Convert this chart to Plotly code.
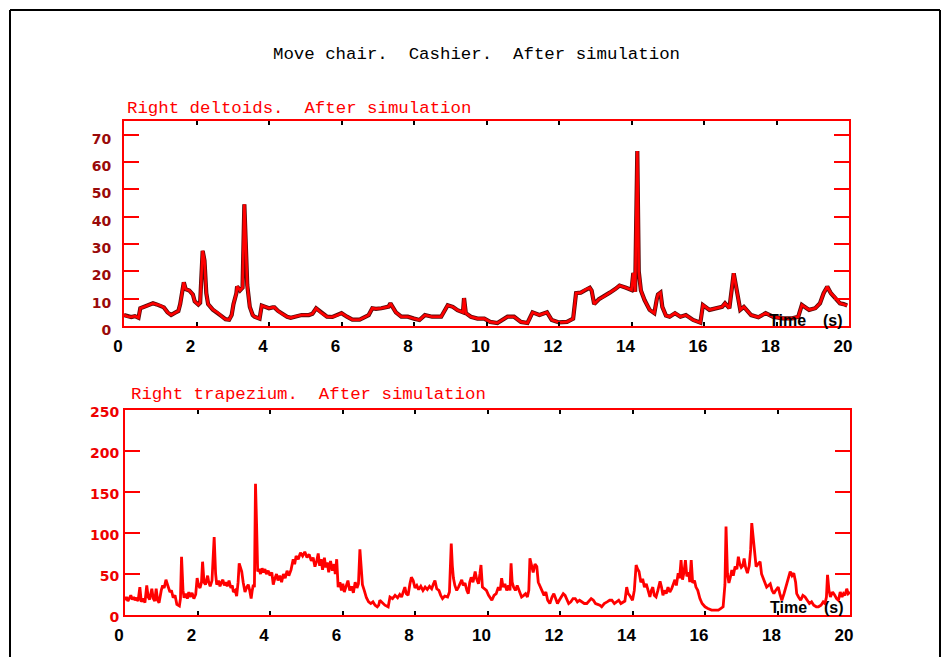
import plotly.graph_objects as go

W, H = 943, 657

# ---------------- data ----------------
deltoid_t = [0.0, 0.1, 0.2, 0.3, 0.4, 0.45, 0.6, 0.7, 0.8, 0.9, 1.0, 1.1, 1.2, 1.3, 1.4, 1.5,
             1.55, 1.6, 1.65, 1.7, 1.8, 1.9, 1.95, 2.05, 2.1, 2.17, 2.22, 2.27, 2.32, 2.45, 2.6,
             2.7, 2.8, 2.9, 2.97, 3.02, 3.1, 3.12, 3.2, 3.27, 3.32, 3.36, 3.4, 3.47, 3.55, 3.6,
             3.74, 3.8, 3.9, 4.0, 4.1, 4.15, 4.25, 4.33, 4.5, 4.6, 4.7, 4.9, 5.1, 5.2, 5.3, 5.45,
             5.6, 5.75, 5.9, 6.0, 6.15, 6.3, 6.5, 6.67, 6.75, 6.85, 6.95, 7.1, 7.3, 7.35, 7.5,
             7.65, 7.83, 8.0, 8.15, 8.3, 8.5, 8.75, 8.93, 9.07, 9.2, 9.35, 9.38, 9.43, 9.57, 9.75,
             9.94, 10.1, 10.3, 10.58, 10.76, 10.95, 11.13, 11.27, 11.46, 11.67, 11.8, 12.0, 12.22,
             12.39, 12.47, 12.6, 12.75, 12.85, 12.9, 12.97, 13.1, 13.2, 13.3, 13.4, 13.55, 13.67,
             13.85, 14.0, 14.05, 14.1, 14.16, 14.2, 14.26, 14.36, 14.5, 14.63, 14.7, 14.73, 14.8,
             14.85, 14.95, 15.05, 15.2, 15.35, 15.5, 15.7, 15.9, 15.97, 16.15, 16.35, 16.5, 16.58,
             16.7, 16.82, 16.9, 17.0, 17.1, 17.3, 17.5, 17.7, 17.9, 18.16, 18.44, 18.6, 18.7, 18.9,
             19.07, 19.2, 19.3, 19.4, 19.5, 19.6, 19.75, 19.85, 19.95]
deltoid_v = [4.0, 3.5, 3.3, 3.6, 3.0, 6.5, 7.2, 7.8, 8.3, 7.9, 7.5, 6.8, 5.0, 4.0, 4.8, 5.5,
             8.0, 12.5, 16.0, 13.5, 13.0, 11.5, 9.0, 7.8, 8.5, 27.5, 24.0, 12.0, 8.0, 6.0, 4.7,
             3.5, 2.5, 2.3, 4.0, 8.0, 12.0, 14.5, 13.0, 14.0, 44.5, 30.0, 15.0, 7.0, 4.0, 3.4,
             2.7, 7.5, 7.0, 6.5, 6.8, 6.8, 5.5, 4.7, 3.4, 3.0, 3.4, 4.0, 4.0, 4.5, 6.5, 4.7,
             3.4, 3.3, 4.0, 4.7, 3.4, 2.3, 2.3, 3.4, 4.0, 6.5, 6.3, 6.5, 7.1, 8.3, 5.0,
             3.4, 3.4, 2.7, 2.2, 4.0, 3.4, 3.4, 7.6, 7.0, 5.8, 5.0, 10.2, 4.7, 3.4, 2.7,
             2.7, 1.5, 1.1, 3.4, 3.4, 1.5, 1.1, 5.0, 4.0, 5.0, 2.2, 1.3, 1.5,
             2.7, 12.0, 12.2, 13.5, 14.0, 13.0, 8.0, 9.8, 10.5, 11.5, 12.2, 13.5, 14.8,
             14.0, 13.2, 19.4, 12.5, 64.0, 20.0, 13.0, 9.5, 5.9, 4.7, 10.0, 11.5, 12.2,
             7.0, 3.8, 3.4, 4.7, 3.4, 4.0, 2.2, 1.2, 7.7, 5.9, 6.5, 7.0, 8.3,
             6.5, 19.3, 13.0, 5.9, 7.0, 4.0, 3.2, 4.7, 3.4, 2.8, 2.8, 3.4, 7.7, 5.9,
             6.5, 8.3, 12.0, 14.4, 12.0, 10.7, 8.3, 8.0, 7.5]

trap_t = [0.00, 0.04, 0.08, 0.12, 0.16, 0.20, 0.24, 0.28, 0.32, 0.36, 0.41, 0.45, 0.50, 0.55,
          0.60, 0.64, 0.68, 0.74, 0.78, 0.82, 0.86, 0.90, 0.94, 1.00, 1.04, 1.08, 1.13, 1.18,
          1.24, 1.28, 1.33, 1.38, 1.43, 1.50, 1.53, 1.56, 1.60, 1.63, 1.68, 1.72, 1.76, 1.80,
          1.85, 1.90, 1.95, 1.99, 2.03, 2.07, 2.11, 2.14, 2.18, 2.22, 2.25, 2.28, 2.31, 2.35,
          2.40, 2.46, 2.50, 2.53, 2.58, 2.62, 2.66, 2.70, 2.74, 2.78, 2.82, 2.87, 2.92, 2.96,
          2.99, 3.04, 3.08, 3.12, 3.15, 3.19, 3.22, 3.26, 3.31, 3.36, 3.40, 3.44, 3.48, 3.51,
          3.54, 3.57, 3.60, 3.63, 3.66, 3.70, 3.74, 3.78, 3.82, 3.86, 3.90, 3.95, 4.00, 4.05,
          4.09, 4.13, 4.18, 4.22, 4.27, 4.32, 4.37, 4.42, 4.47, 4.52, 4.58, 4.64, 4.68, 4.72,
          4.78, 4.84, 4.90, 4.96, 5.02, 5.08, 5.14, 5.19, 5.24, 5.29, 5.33, 5.37, 5.41, 5.45,
          5.50, 5.54, 5.58, 5.62, 5.67, 5.72, 5.77, 5.80, 5.84, 5.88, 5.93, 5.97, 6.01, 6.05,
          6.10, 6.15, 6.20, 6.25, 6.30, 6.35, 6.40, 6.44, 6.48, 6.52, 6.55, 6.60, 6.66, 6.72,
          6.78, 6.84, 6.90, 6.96, 7.00, 7.03, 7.10, 7.17, 7.26, 7.31, 7.38, 7.45, 7.52, 7.58,
          7.63, 7.68, 7.72, 7.76, 7.81, 7.86, 7.90, 7.95, 8.00, 8.05, 8.10, 8.16, 8.22, 8.28,
          8.34, 8.40, 8.46, 8.51, 8.55, 8.60, 8.66, 8.71, 8.76, 8.82, 8.90, 8.95, 9.00, 9.03,
          9.06, 9.10, 9.15, 9.20, 9.25, 9.29, 9.33, 9.38, 9.43, 9.47, 9.51, 9.55, 9.60, 9.66,
          9.70, 9.75, 9.79, 9.82, 9.86, 9.92, 9.97, 10.03, 10.08, 10.12, 10.18, 10.24, 10.30,
          10.35, 10.39, 10.43, 10.48, 10.53, 10.58, 10.62, 10.65, 10.68, 10.72, 10.77, 10.82,
          10.88, 10.94, 11.00, 11.05, 11.10, 11.14, 11.17, 11.21, 11.26, 11.31, 11.36, 11.40,
          11.45, 11.50, 11.56, 11.61, 11.66, 11.72, 11.78, 11.83, 11.88, 11.93, 11.98, 12.04,
          12.09, 12.14, 12.19, 12.24, 12.30, 12.36, 12.42, 12.48, 12.54, 12.60, 12.67, 12.74,
          12.80, 12.86, 12.92, 12.98, 13.04, 13.10, 13.15, 13.22, 13.30, 13.37, 13.43, 13.50,
          13.56, 13.62, 13.68, 13.74, 13.79, 13.84, 13.88, 13.92, 13.96, 14.00, 14.05, 14.10,
          14.14, 14.18, 14.23, 14.28, 14.33, 14.38, 14.43, 14.48, 14.52, 14.56, 14.60, 14.65,
          14.70, 14.76, 14.80, 14.84, 14.88, 14.93, 14.98, 15.03, 15.08, 15.13, 15.17, 15.21,
          15.26, 15.30, 15.34, 15.38, 15.42, 15.46, 15.50, 15.55, 15.58, 15.62, 15.66, 15.71,
          15.75, 15.80, 15.86, 15.92, 16.00, 16.08, 16.18, 16.28, 16.37, 16.44, 16.50, 16.55,
          16.58, 16.62, 16.66, 16.70, 16.74, 16.78, 16.83, 16.88, 16.92, 16.96, 17.00, 17.04,
          17.08, 17.12, 17.17, 17.22, 17.26, 17.29, 17.33, 17.37, 17.41, 17.46, 17.52, 17.56,
          17.60, 17.65, 17.70, 17.75, 17.80, 17.85, 17.90, 17.95, 18.02, 18.07, 18.12, 18.18,
          18.25, 18.30, 18.35, 18.40, 18.45, 18.50, 18.53, 18.58, 18.64, 18.70, 18.76, 18.82,
          18.88, 18.94, 19.00, 19.07, 19.13, 19.20, 19.26, 19.31, 19.35, 19.38, 19.42, 19.46,
          19.52, 19.58, 19.63, 19.68, 19.73, 19.78, 19.82, 19.86, 19.91, 19.95, 20.00]
trap_v = [18, 22, 17, 20, 24, 19, 22, 18, 21, 17, 34, 16, 20, 15,
          36, 22, 19, 32, 20, 17, 32, 18, 15, 30, 36, 33, 43, 36,
          28, 30, 21, 24, 13, 11, 20, 71, 30, 21, 26, 20, 28, 22,
          27, 20, 25, 45, 36, 33, 40, 65, 40, 37, 44, 48, 40, 35,
          42, 95, 50, 37, 42, 35, 40, 43, 36, 40, 35, 42, 33, 36,
          28, 30, 23, 40, 63, 58, 53, 40, 28, 34, 37, 30, 20, 30,
          37, 34, 160, 110, 53, 56, 50, 57, 52, 56, 50, 54, 48, 52,
          37, 44, 50, 42, 48, 40, 50, 45, 54, 48, 55, 68, 62, 72,
          68, 76, 72, 77, 70, 74, 66, 70, 59, 66, 75, 60, 68, 55,
          70, 58, 64, 52, 66, 54, 62, 50, 68, 34, 40, 30, 38, 28,
          36, 42, 30, 35, 27, 40, 33, 38, 80, 50, 37, 30, 21, 16,
          14, 16, 12, 10, 12, 18, 15, 12, 10, 22, 20, 24, 21, 25,
          22, 28, 34, 26, 24, 38, 46, 42, 33, 36, 31, 35, 30, 34,
          31, 35, 32, 38, 42, 32, 30, 24, 20, 23, 22, 28, 87, 60,
          45, 36, 30, 34, 40, 43, 36, 39, 30, 26, 40, 46, 40, 53,
          44, 38, 50, 61, 34, 32, 30, 24, 20, 18, 24, 26, 34,
          30, 45, 34, 38, 30, 36, 30, 63, 40, 34, 30, 36,
          28, 22, 24, 26, 22, 30, 69, 60, 52, 62, 59, 40,
          34, 30, 24, 28, 18, 14, 22, 26, 20, 14, 18, 22,
          26, 24, 18, 14, 16, 20, 20, 16, 18, 16, 14, 14,
          17, 20, 18, 14, 13, 12, 10, 14, 16, 18, 18, 14,
          16, 18, 14, 16, 17, 34, 26, 24, 20, 18, 30, 61,
          56, 53, 40, 44, 34, 38, 30, 22, 30, 34, 24, 22,
          30, 41, 34, 24, 30, 26, 34, 28, 32, 38, 43, 36,
          51, 45, 67, 43, 52, 67, 47, 52, 40, 67, 39, 42,
          34, 30, 20, 14, 10, 8, 6, 6, 6, 8, 10, 37,
          108, 50, 39, 46, 55, 48, 59, 56, 71, 62, 58, 60,
          69, 58, 51, 60, 80, 112, 95, 70, 59, 62, 65, 50,
          46, 40, 34, 36, 38, 30, 26, 30, 34, 25, 18, 26,
          38, 46, 53, 48, 51, 40, 26, 22, 18, 24, 22, 18,
          14, 16, 12, 10, 10, 12, 16, 14, 22, 49, 30, 22,
          28, 24, 20, 18, 28, 22, 26, 24, 32, 26, 28]

x_ticks = [0, 2, 4, 6, 8, 10, 12, 14, 16, 18, 20]
deltoid_ticks = [0, 10, 20, 30, 40, 50, 60, 70]
trap_ticks = [0, 50, 100, 150, 200, 250]

main_title = "Move chair.  Cashier.  After simulation"
top_title = "Right deltoids.  After simulation"
bot_title = "Right trapezium.  After simulation"

# ---------------- figure ----------------
def px(x):
    return x / W

def py(y):
    return 1 - y / H

fig = go.Figure()
fig.add_trace(go.Scatter(x=deltoid_t, y=deltoid_v, mode="lines",
                         line=dict(color="#5a0808", width=4.2), xaxis="x", yaxis="y",
                         showlegend=False, hoverinfo="skip"))
fig.add_trace(go.Scatter(x=deltoid_t, y=deltoid_v, mode="lines",
                         line=dict(color="#ff0000", width=2.6), xaxis="x", yaxis="y",
                         showlegend=False))
fig.add_trace(go.Scatter(x=trap_t, y=trap_v, mode="lines",
                         line=dict(color="#ff0000", width=2.8), xaxis="x2", yaxis="y2",
                         showlegend=False))

xfont = dict(family="Liberation Sans", size=17, color="black", weight="bold")
common_x = dict(range=[0, 20], tickvals=x_ticks, ticks="inside", ticklen=4, tickwidth=2,
                tickcolor="black", showline=True, linecolor="#ff0000", linewidth=2,
                mirror="ticks", showgrid=False, zeroline=False, tickfont=xfont,
                ticklabelshift=-6, ticklabelstandoff=4, automargin=False)

fig.update_layout(
    template="none",
    width=W, height=H,
    margin=dict(l=0, r=0, t=0, b=0, pad=0, autoexpand=False),
    paper_bgcolor="white", plot_bgcolor="white",
    xaxis=dict(domain=[px(124), px(849)], anchor="y", **common_x),
    yaxis=dict(domain=[py(326), py(121)], anchor="x", range=[0, 75], tickvals=deltoid_ticks,
               ticks="inside", ticklen=15, tickwidth=2, tickcolor="#ff0000",
               showline=True, linecolor="#ff0000", linewidth=2, mirror="ticks",
               showgrid=False, zeroline=False, ticklabelstandoff=8, ticklabelshift=4,
               automargin=False,
               tickfont=dict(family="DejaVu Sans", size=14, color="#9a0a0a", weight="bold")),
    xaxis2=dict(domain=[px(125), px(850)], anchor="y2", **common_x),
    yaxis2=dict(domain=[py(615), py(410)], anchor="x2", range=[0, 250], tickvals=trap_ticks,
                ticks="inside", ticklen=15, tickwidth=2, tickcolor="#ff0000",
                showline=True, linecolor="#ff0000", linewidth=2, mirror="ticks",
                showgrid=False, zeroline=False, ticklabelstandoff=1, ticklabelshift=2,
                automargin=False,
                tickfont=dict(family="DejaVu Sans", size=14, color="#ee0000", weight="bold")),
)

ann = [
    dict(text=main_title, x=px(476), y=py(55), font=dict(family="Liberation Mono", size=17.4, color="black")),
    dict(text=top_title, x=px(125), y=py(108), xanchor="left",
         font=dict(family="Liberation Mono", size=17.4, color="#ff0000")),
    dict(text=bot_title, x=px(129), y=py(394), xanchor="left",
         font=dict(family="Liberation Mono", size=17.4, color="#ff0000")),
    dict(text="Time", x=px(767), y=py(320), xanchor="left",
         font=dict(family="Liberation Sans", size=16, color="black", weight="bold")),
    dict(text="(s)", x=px(821), y=py(320), xanchor="left",
         font=dict(family="Liberation Sans", size=16, color="black", weight="bold")),
    dict(text="Time", x=px(768), y=py(607), xanchor="left",
         font=dict(family="Liberation Sans", size=16, color="black", weight="bold")),
    dict(text="(s)", x=px(822), y=py(607), xanchor="left",
         font=dict(family="Liberation Sans", size=16, color="black", weight="bold")),
]
for a in ann:
    a.setdefault("xanchor", "center")
    fig.add_annotation(xref="paper", yref="paper", showarrow=False, yanchor="middle", **a)

# black frame around the page
frame = dict(type="line", xref="paper", yref="paper", line=dict(color="black", width=2))
fig.add_shape(x0=px(10), x1=px(10), y0=0, y1=py(10), **frame)
fig.add_shape(x0=px(10), x1=px(940), y0=py(10), y1=py(10), **frame)
fig.add_shape(x0=px(940), x1=px(940), y0=0, y1=py(10), **frame)

fig.write_html("out.html")
